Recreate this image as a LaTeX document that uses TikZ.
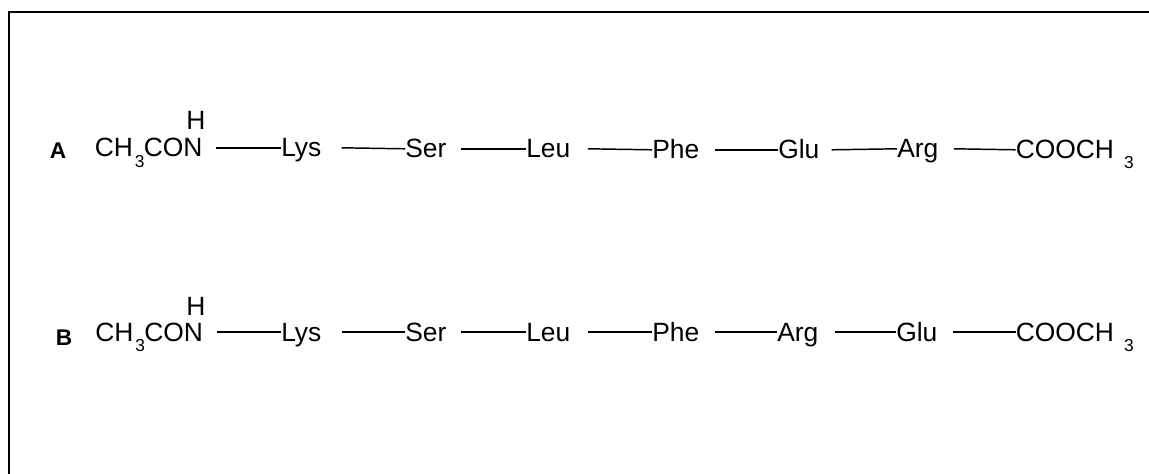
\documentclass[tikz,border=0pt]{standalone}
\usepackage{fontspec}
\setmainfont{Liberation Sans}
\newcommand{\lowsub}[1]{\raisebox{-7.5pt}{\fontsize{13}{13}\selectfont #1}}
\tikzset{
  res/.style={inner sep=0pt, anchor=base west, text height=13.8pt, text depth=0pt,
    font=\fontsize{19.8}{21}\selectfont},
  tag/.style={inner sep=0pt, anchor=base west, font=\fontsize{17}{18}\selectfont\bfseries},
  hyd/.style={inner sep=0pt, anchor=base, font=\fontsize{19.8}{21}\selectfont},
  bond/.style={line width=1.1pt},
}
\begin{document}
\begin{tikzpicture}[x=0.75pt,y=-0.75pt]
  \useasboundingbox (0,0) rectangle (1149,474);
  \draw[line width=1.6pt] (9,474) -- (9,12) -- (1149,12);
  % peptide A
  \node[tag] (tagA) at (49.5,159) {A};
  \node[res] (nA) at (94.5,157) {CH\hspace{1.5pt}\lowsub{3}\hspace{-0.5pt}CON};
  \node[hyd] (hA) at (196,130) {H};
  \node[res] (lysA) at (281,157) {Lys};
  \node[res] (serA) at (405,158) {Ser};
  \node[res] (leuA) at (526,158) {Leu};
  \node[res] (pheA) at (652,159) {Phe};
  \node[res] (gluA) at (778,159) {Glu};
  \node[res] (argA) at (897,158) {Arg};
  \node[res] (cA) at (1015.5,159) {COOCH\hspace{7.5pt}\lowsub{3}};
  \draw[bond] ([xshift=10pt]nA.east) -- (lysA.west);
  \draw[bond] ([xshift=15pt]lysA.east) -- (serA.west);
  \draw[bond] ([xshift=10.5pt]serA.east) -- (leuA.west);
  \draw[bond] ([xshift=13pt]leuA.east) -- (pheA.west);
  \draw[bond] ([xshift=11.5pt]pheA.east) -- (gluA.west);
  \draw[bond] ([xshift=9pt]gluA.east) -- (argA.west);
  \draw[bond] ([xshift=11.5pt]argA.east) -- (cA.west);
  % peptide B
  \node[tag] (tagB) at (55.5,345) {B};
  \node[res] (nB) at (95,341) {CH\hspace{1.5pt}\lowsub{3}\hspace{-0.5pt}CON};
  \node[hyd] (hB) at (196,315) {H};
  \node[res] (lysB) at (281,341) {Lys};
  \node[res] (serB) at (405,341) {Ser};
  \node[res] (leuB) at (526,341) {Leu};
  \node[res] (pheB) at (652,341) {Phe};
  \node[res] (argB) at (777,341) {Arg};
  \node[res] (gluB) at (896,341) {Glu};
  \node[res] (cB) at (1015.5,341) {COOCH\hspace{7.5pt}\lowsub{3}};
  \draw[bond] ([xshift=10pt]nB.east) -- (lysB.west);
  \draw[bond] ([xshift=15pt]lysB.east) -- (serB.west);
  \draw[bond] ([xshift=10.5pt]serB.east) -- (leuB.west);
  \draw[bond] ([xshift=13pt]leuB.east) -- (pheB.west);
  \draw[bond] ([xshift=11.5pt]pheB.east) -- (argB.west);
  \draw[bond] ([xshift=12.5pt]argB.east) -- (gluB.west);
  \draw[bond] ([xshift=11.5pt]gluB.east) -- (cB.west);
\end{tikzpicture}
\end{document}
